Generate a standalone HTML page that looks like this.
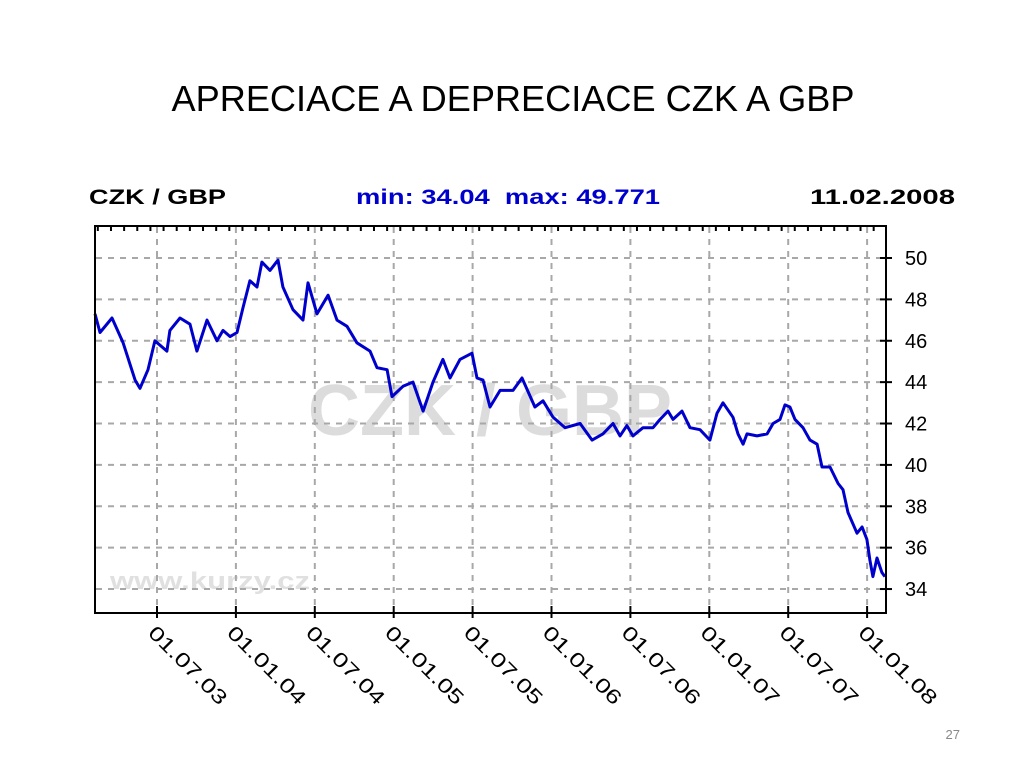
<!DOCTYPE html>
<html><head><meta charset="utf-8"><style>
body{margin:0;background:#fff;width:1024px;height:768px;overflow:hidden;font-family:"Liberation Sans",sans-serif}
</style></head><body>
<svg width="1024" height="768" xmlns="http://www.w3.org/2000/svg">
<text x="513" y="111" text-anchor="middle" font-size="36" textLength="683" lengthAdjust="spacingAndGlyphs" font-family="Liberation Sans, sans-serif" fill="#000">APRECIACE A DEPRECIACE CZK A GBP</text>
<text x="89" y="204" font-size="21" font-weight="bold" textLength="137" lengthAdjust="spacingAndGlyphs" fill="#000">CZK / GBP</text>
<text x="356" y="204" font-size="21" font-weight="bold" textLength="304" lengthAdjust="spacingAndGlyphs" fill="#0000cc" xml:space="preserve">min: 34.04  max: 49.771</text>
<text x="810" y="204" font-size="21" font-weight="bold" textLength="145" lengthAdjust="spacingAndGlyphs" fill="#000">11.02.2008</text>
<text x="490" y="435" text-anchor="middle" font-size="72" font-weight="bold" fill="#dcdcdc">CZK / GBP</text>
<text x="110" y="589" font-size="24" font-weight="bold" textLength="200" lengthAdjust="spacingAndGlyphs" fill="#e0e0e0">www.kurzy.cz</text>
<g id="grid"></g>
<g id="marks"></g>
<rect x="95" y="226" width="791" height="387" fill="none" stroke="#000" stroke-width="2"/>
<g id="labels"></g>
<text x="960" y="739" text-anchor="end" font-size="13" fill="#888">27</text>
</svg>
<script>
const yTicks=[34,36,38,40,42,44,46,48,50];
const xTickDates=[2003.5,2004.0,2004.5,2005.0,2005.5,2006.0,2006.5,2007.0,2007.5,2008.0];
const xTickLabels=["01.07.03","01.01.04","01.07.04","01.01.05","01.07.05","01.01.06","01.07.06","01.01.07","01.07.07","01.01.08"];
const times=[2003.107,2003.139,2003.215,2003.285,2003.361,2003.392,2003.443,2003.487,2003.563,2003.582,2003.646,2003.709,2003.753,2003.817,2003.880,2003.918,2003.963,2004.007,2004.045,2004.089,2004.134,2004.165,2004.216,2004.267,2004.298,2004.362,2004.425,2004.457,2004.514,2004.584,2004.641,2004.704,2004.767,2004.850,2004.894,2004.958,2004.989,2005.059,2005.122,2005.186,2005.249,2005.312,2005.357,2005.420,2005.496,2005.528,2005.566,2005.610,2005.674,2005.756,2005.813,2005.895,2005.946,2006.010,2006.086,2006.181,2006.257,2006.326,2006.390,2006.434,2006.478,2006.516,2006.580,2006.643,2006.688,2006.738,2006.770,2006.827,2006.878,2006.941,2007.004,2007.049,2007.087,2007.150,2007.182,2007.214,2007.239,2007.302,2007.366,2007.404,2007.448,2007.480,2007.511,2007.543,2007.594,2007.638,2007.683,2007.714,2007.765,2007.816,2007.847,2007.879,2007.936,2007.968,2007.999,2008.018,2008.037,2008.063,2008.094,2008.113];
const rates=[47.3,46.4,47.1,45.9,44.1,43.7,44.6,46.0,45.5,46.5,47.1,46.8,45.5,47.0,46.0,46.5,46.2,46.4,47.6,48.9,48.6,49.8,49.4,49.9,48.6,47.5,47.0,48.8,47.3,48.2,47.0,46.7,45.9,45.5,44.7,44.6,43.3,43.8,44.0,42.6,44.0,45.1,44.2,45.1,45.4,44.2,44.1,42.8,43.6,43.6,44.2,42.8,43.1,42.3,41.8,42.0,41.2,41.5,42.0,41.4,41.9,41.4,41.8,41.8,42.2,42.6,42.2,42.6,41.8,41.7,41.2,42.5,43.0,42.3,41.5,41.0,41.5,41.4,41.5,42.0,42.2,42.9,42.8,42.2,41.8,41.2,41.0,39.9,39.9,39.1,38.8,37.7,36.7,37.0,36.4,35.4,34.6,35.5,34.8,34.6];
const X0=157,XPX=157.8,Y0=258,YPX=20.69;
function xs(t){return X0+(t-2003.5)*XPX;}
function ys(v){return Y0+(50-v)*YPX;}
const NS="http://www.w3.org/2000/svg";
const grid=document.getElementById('grid'),labels=document.getElementById('labels'),marks=document.getElementById('marks');
yTicks.forEach(v=>{
 const l=document.createElementNS(NS,'line');
 
 
 l.setAttribute('x1',96);l.setAttribute('x2',886);l.setAttribute('y1',ys(v));l.setAttribute('y2',ys(v));
 l.setAttribute('stroke','#a8a8a8');l.setAttribute('stroke-width','2');l.setAttribute('stroke-dasharray','6,6');
 grid.appendChild(l);
 const tk=document.createElementNS(NS,'line');
 
 
 tk.setAttribute('x1',880);tk.setAttribute('x2',892);tk.setAttribute('y1',ys(v));tk.setAttribute('y2',ys(v));
 tk.setAttribute('stroke','#000');tk.setAttribute('stroke-width','2');
 labels.appendChild(tk);
 const t=document.createElementNS(NS,'text');
 
 
 t.setAttribute('x',905);t.setAttribute('y',ys(v)+7);t.setAttribute('font-size','20');
 t.textContent=v;labels.appendChild(t);
});
xTickDates.forEach((d,i)=>{
 const x=xs(d);
 const l=document.createElementNS(NS,'line');
 
 
 l.setAttribute('x1',x);l.setAttribute('x2',x);l.setAttribute('y1',227);l.setAttribute('y2',612);
 l.setAttribute('stroke','#a8a8a8');l.setAttribute('stroke-width','2');l.setAttribute('stroke-dasharray','6,6');
 grid.appendChild(l);
 const tk=document.createElementNS(NS,'line');
 
 
 tk.setAttribute('x1',x);tk.setAttribute('x2',x);tk.setAttribute('y1',606);tk.setAttribute('y2',618);
 tk.setAttribute('stroke','#000');tk.setAttribute('stroke-width','2');
 labels.appendChild(tk);
 const t=document.createElementNS(NS,'text');
 
 
 t.setAttribute('font-size','20');
 t.setAttribute('textLength','102');
 t.setAttribute('lengthAdjust','spacingAndGlyphs');
 t.setAttribute('transform','translate('+(x-10)+',634) rotate(45)');
 t.textContent=xTickLabels[i];labels.appendChild(t);
});
for(let d=2003.125;d<2008.12;d+=1/12){
 const x=xs(d);
 const tk=document.createElementNS(NS,'line');
 
 
 tk.setAttribute('x1',x);tk.setAttribute('x2',x);tk.setAttribute('y1',226);tk.setAttribute('y2',231);
 tk.setAttribute('stroke','#000');tk.setAttribute('stroke-width','2');
 labels.appendChild(tk);
}
const p=document.createElementNS(NS,'polyline');


p.setAttribute('points',times.map((t,i)=>xs(t).toFixed(1)+','+ys(rates[i]).toFixed(1)).join(' '));
p.setAttribute('fill','none');p.setAttribute('stroke','#0000cc');p.setAttribute('stroke-width','3');p.setAttribute('stroke-linejoin','round');
marks.appendChild(p);
</script>
</body></html>
